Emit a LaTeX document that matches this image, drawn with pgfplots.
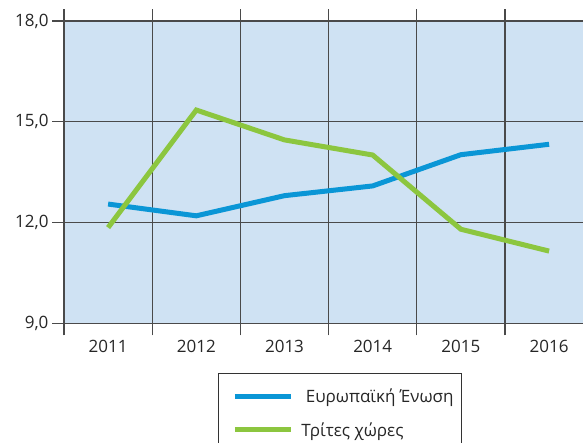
\documentclass[border=0pt]{standalone}
\usepackage{fontspec}
\setmainfont{Open Sans}
\usepackage{pgfplots}
\pgfplotsset{compat=1.18}
\definecolor{eublue}{HTML}{0A96D6}
\definecolor{thirdgreen}{HTML}{8CC63F}
\definecolor{plotbg}{HTML}{CFE2F3}
\definecolor{gridc}{HTML}{4A4A4A}
\newcommand{\lblfont}{\fontsize{17}{20}\selectfont}

\begin{document}
\begin{tikzpicture}
\path[use as bounding box, clip] (0,0) rectangle (583pt,442pt);
\begin{axis}[
  at={(64pt,118.7pt)}, anchor=south west,
  scale only axis, width=529.2pt, height=302.3pt,
  xmin=0.5, xmax=6.5, ymin=9, ymax=18,
  axis background/.style={fill=plotbg},
  axis line style={gridc, line width=1.1pt},
  xtick={0.5,1.5,...,5.5}, xticklabels={},
  extra x ticks={1,2,3,4,5,6},
  extra x tick labels={2011,2012,2013,2014,2015,2016},
  extra x tick style={major tick length=0pt, grid=none},
  ytick={9,12,15,18},
  xmajorgrids, ymajorgrids,
  grid style={gridc, line width=1.1pt},
  tick align=outside, major tick length=12pt,
  tick style={gridc, line width=1.1pt},
  tick label style={font=\lblfont, text=black!85},
  xticklabel style={yshift=-13pt},
  yticklabel style={/pgf/number format/.cd, fixed, fixed zerofill, precision=1, use comma, assume math mode=true},
  legend style={at={(0.291,-0.1634)}, anchor=north west, draw=black!80, line width=0.8pt,
    font=\lblfont, text=black!85, row sep=14pt, inner xsep=6pt, inner ysep=14pt,
    nodes={inner sep=2pt}, /tikz/every odd column/.append style={column sep=6pt}},
  legend cell align=left,
  legend image code/.code={\path (-8pt,0pt); \draw[#1] (0pt,0pt) -- (56pt,0pt);},
]
\addplot[eublue, line width=5pt] coordinates {(1,12.55) (2,12.2) (3,12.8) (4,13.09) (5,14.02) (6,14.33)};
\addplot[thirdgreen, line width=5pt] coordinates {(1,11.85) (2,15.35) (3,14.46) (4,14.01) (5,11.8) (6,11.15)};
\legend{\ Ευρωπαϊκή Ένωση, Τρίτες χώρες}
\end{axis}
\end{tikzpicture}
\end{document}
